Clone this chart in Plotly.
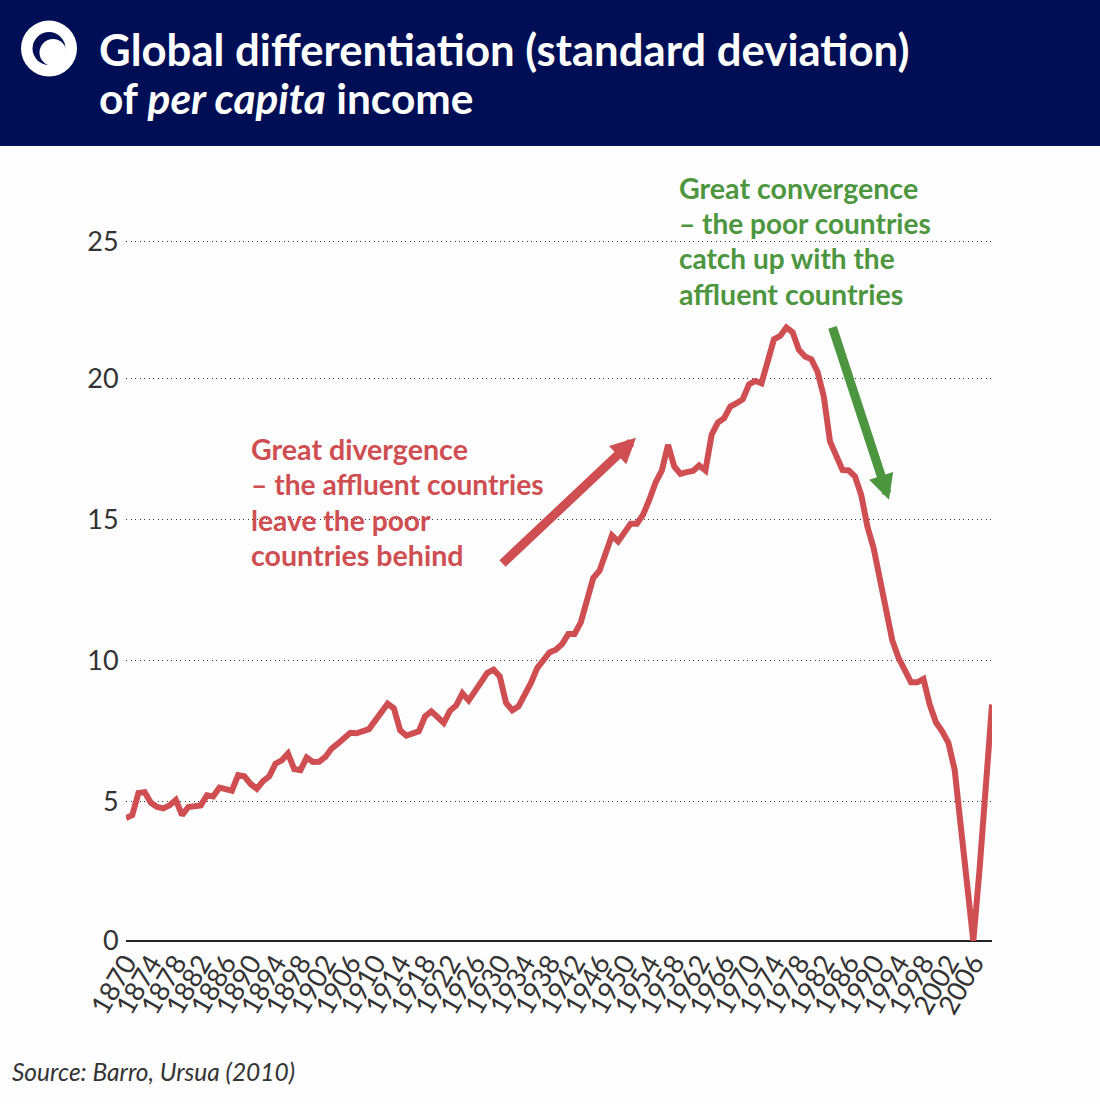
import plotly.graph_objects as go

years = list(range(1870, 2010))
values = [
    4.37, 4.47, 5.26, 5.29, 4.91, 4.76, 4.71, 4.82, 5.01, 4.47,
    4.76, 4.80, 4.82, 5.18, 5.14, 5.45, 5.39, 5.34, 5.89, 5.85,
    5.58, 5.41, 5.68, 5.85, 6.30, 6.42, 6.66, 6.11, 6.07, 6.52,
    6.36, 6.37, 6.54, 6.84, 7.01, 7.20, 7.40, 7.38, 7.45, 7.53,
    7.83, 8.13, 8.43, 8.27, 7.49, 7.30, 7.38, 7.45, 7.98, 8.16,
    7.96, 7.75, 8.18, 8.37, 8.80, 8.55, 8.87, 9.17, 9.53, 9.64,
    9.40, 8.46, 8.20, 8.34, 8.75, 9.17, 9.70, 10.00, 10.26, 10.35,
    10.55, 10.91, 10.91, 11.32, 12.13, 12.90, 13.16, 13.78, 14.41, 14.20,
    14.56, 14.83, 14.83, 15.15, 15.68, 16.29, 16.71, 17.63, 16.86, 16.60,
    16.66, 16.70, 16.90, 16.72, 17.99, 18.42, 18.58, 18.99, 19.11, 19.25,
    19.78, 19.90, 19.82, 20.65, 21.38, 21.50, 21.80, 21.63, 21.01, 20.77,
    20.67, 20.23, 19.35, 17.75, 17.22, 16.74, 16.72, 16.51, 15.86, 14.73,
    13.96, 12.84, 11.77, 10.68, 10.06, 9.58, 9.19, 9.19, 9.31, 8.40,
    7.77, 7.45, 7.04, 6.09, 3.96, 1.83, 0.00, 2.54, 5.38, 8.40,
]
x_ticks = list(range(1870, 2007, 4))
y_tick_labels = ["0", "5", "10", "15", "20", "25"]
# the source's printed gridlines are not quite evenly spaced
y_tick_positions = [0, 4.94, 9.95, 14.99, 20, 24.84]

title_lines = ["Global differentiation (standard deviation)", "of <i>per capita</i> income"]
title_sizes = [43.7, 42.4]
red_lines = ["Great divergence", "– the affluent countries", "leave the poor", "countries behind"]
red_sizes = [28.6, 28.2, 28.2, 28.6]
green_lines = ["Great convergence", "– the poor countries", "catch up with the", "affluent countries"]
green_sizes = [28.6, 28.0, 28.0, 28.6]
source_text = "<i>Source: Barro, Ursua (2010)</i>"

NAVY, RED, GREEN, INK = "#000f55", "#cf4e52", "#4d9640", "#333333"
L, R, T, B = 126, 992, 146, 941.5
W, H = R - L, B - T
px = lambda v: (v - L) / W
py = lambda v: (B - v) / H


def circle(cx, cy, r, color):
    return dict(type="circle", xref="paper", yref="paper", x0=px(cx - r), x1=px(cx + r),
                y0=py(cy + r), y1=py(cy - r), fillcolor=color, line_width=0, layer="above")


def arrow(x0, y0, x1, y1, color):
    return dict(xref="paper", yref="paper", axref="pixel", ayref="pixel",
                x=px(x1), y=py(y1), ax=x0 - x1, ay=y0 - y1, text="", showarrow=True,
                arrowhead=2, arrowsize=0.56, arrowwidth=9, arrowcolor=color, standoff=0)


def text_line(x, y, text, color, size, weight=700):
    return dict(xref="paper", yref="paper", x=px(x), y=py(y), xanchor="left", yanchor="middle",
                text=text, showarrow=False, align="left",
                font=dict(family="Lato", size=size, color=color, weight=weight))


annotations = [text_line(97, 49 + 48 * i, t, "white", s)
               for i, (t, s) in enumerate(zip(title_lines, title_sizes))]
annotations += [text_line(249, 449 + 35.4 * i, t, RED, s)
                for i, (t, s) in enumerate(zip(red_lines, red_sizes))]
annotations += [text_line(677, 188 + 35.2 * i, t, GREEN, s)
                for i, (t, s) in enumerate(zip(green_lines, green_sizes))]
annotations += [
    arrow(501, 565, 636, 438, RED),
    arrow(832, 326, 889, 500, GREEN),
    text_line(10, 1072, source_text, INK, 24.5, 400),
]

fig = go.Figure(go.Scatter(x=years, y=values, mode="lines", cliponaxis=False,
                           line=dict(color=RED, width=6), hoverinfo="skip"))

fig.update_layout(
    width=1100, height=1104, autosize=False, showlegend=False,
    margin=dict(l=L, r=1100 - R, t=T, b=1104 - B),
    paper_bgcolor="#fdfdfd", plot_bgcolor="rgba(0,0,0,0)",
    font=dict(family="Lato", color=INK),
    xaxis=dict(range=[1870, 2009], tickmode="array", tickvals=x_ticks,
               ticktext=[str(v) for v in x_ticks], tickangle=-60, showgrid=False,
               zeroline=False, ticks="",
               tickfont=dict(family="Lato", size=27, color=INK)),
    yaxis=dict(range=[0, H / 28.16], tickmode="array", tickvals=y_tick_positions,
               ticktext=y_tick_labels, showgrid=True, griddash="1px,3.5px",
               gridcolor="#333333", gridwidth=1, zeroline=True, zerolinecolor="#222222",
               zerolinewidth=1.5, ticks="outside", ticklen=1, tickcolor="rgba(0,0,0,0)",
               tickfont=dict(family="Lato", size=27, color=INK)),
    shapes=[
        dict(type="rect", xref="paper", yref="paper", x0=px(0), x1=px(1100), y0=py(146), y1=py(0),
             fillcolor=NAVY, line_width=0, layer="below"),
        circle(49, 48.5, 28, "white"),
        circle(49, 48.5, 16.5, NAVY),
        circle(53, 52.5, 13.5, "white"),
    ],
    annotations=annotations,
)

fig.write_html("out.html", config={"displayModeBar": False},
               post_script="document.body.style.margin='0';")
